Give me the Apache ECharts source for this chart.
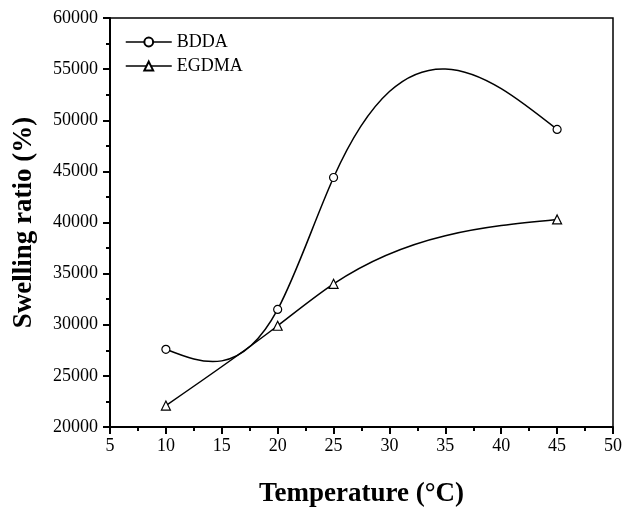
<!DOCTYPE html>
<html>
<head>
<meta charset="utf-8">
<script src="https://cdn.jsdelivr.net/npm/echarts@6/dist/echarts.min.js"></script>
<style>
    html, body { margin: 0; padding: 0; background: #fff; }
    #chart { width: 625px; height: 507px; }
</style>
</head>
<body>
<div id="chart"></div>
<script type="text/javascript">
    // 数据
    var temperature = [10, 20, 25, 45];
    var bdda = [27600, 31500, 44400, 49100];
    var egdma = [22100, 29900, 34000, 40300];

    function pairs(xs, ys) {
        var out = [];
        for (var i = 0; i < xs.length; i++) {
            out.push([xs[i], ys[i]]);
        }
        return out;
    }

    // 自然三次样条的一阶导数（用于贝塞尔控制点）
    function splineSlopes(xs, ys) {
        var n = xs.length, h = [], s = [], M = [];
        for (var i = 0; i < n - 1; i++) {
            h[i] = xs[i + 1] - xs[i];
            s[i] = (ys[i + 1] - ys[i]) / h[i];
        }
        // 三对角方程 (M0 = Mn-1 = 0)
        var a = [], b = [], c = [], d = [];
        for (var i = 1; i < n - 1; i++) {
            a[i] = h[i - 1];
            b[i] = 2 * (h[i - 1] + h[i]);
            c[i] = h[i];
            d[i] = 6 * (s[i] - s[i - 1]);
        }
        for (var i = 2; i < n - 1; i++) {
            var w = a[i] / b[i - 1];
            b[i] -= w * c[i - 1];
            d[i] -= w * d[i - 1];
        }
        M[0] = 0; M[n - 1] = 0;
        for (var i = n - 2; i >= 1; i--) {
            M[i] = (d[i] - (i < n - 2 ? c[i] * M[i + 1] : 0)) / b[i];
        }
        var m = [];
        for (var i = 0; i < n - 1; i++) {
            m[i] = s[i] - h[i] * (2 * M[i] + M[i + 1]) / 6;
        }
        m[n - 1] = s[n - 2] + h[n - 2] * (M[n - 2] + 2 * M[n - 1]) / 6;
        return m;
    }

    function splineSeries(name, xs, ys) {
        var m = splineSlopes(xs, ys);
        return {
            name: name,
            type: 'custom',
            z: 1,
            silent: true,
            data: pairs(xs, ys),
            encode: { x: 0, y: 1 },
            renderItem: function (params, api) {
                if (params.dataIndex !== 0) return;
                var p0 = api.coord([xs[0], ys[0]]);
                var path = 'M' + p0[0] + ' ' + p0[1];
                for (var i = 0; i < xs.length - 1; i++) {
                    var h = xs[i + 1] - xs[i];
                    var c1 = api.coord([xs[i] + h / 3, ys[i] + m[i] * h / 3]);
                    var c2 = api.coord([xs[i + 1] - h / 3, ys[i + 1] - m[i + 1] * h / 3]);
                    var p = api.coord([xs[i + 1], ys[i + 1]]);
                    path += ' C' + c1[0] + ' ' + c1[1] + ' ' + c2[0] + ' ' + c2[1] + ' ' + p[0] + ' ' + p[1];
                }
                return {
                    type: 'path',
                    shape: { pathData: path },
                    style: { fill: 'none', stroke: '#000', lineWidth: 1.5 }
                };
            }
        };
    }

    var myChart = echarts.init(document.getElementById('chart'));
    var font = 'Liberation Serif, Times New Roman, serif';

    var option = {
        backgroundColor: '#fff',
        animation: false,
        legend: {
            left: 120,
            top: 28,
            orient: 'vertical',
            itemGap: 6,
            itemWidth: 46,
            itemHeight: 11,
            textStyle: { fontFamily: font, fontSize: 18, color: '#000' },
            lineStyle: { color: '#000', width: 1.5, opacity: 1 },
            data: ['BDDA', 'EGDMA']
        },
        grid: {
            left: 110,
            right: 12,
            top: 18,
            bottom: 80,
            outerBoundsMode: 'none',
            containLabel: false,
            show: true,
            borderColor: '#000',
            borderWidth: 1.5
        },
        xAxis: {
            type: 'value',
            min: 5,
            max: 50,
            interval: 5,
            name: 'Temperature (°C)',
            nameLocation: 'middle',
            nameGap: 54,
            nameTextStyle: { fontFamily: font, fontSize: 27, fontWeight: 'bold', color: '#000' },
            axisLine: { lineStyle: { color: '#000', width: 2 } },
            axisTick: { inside: false, length: 7, lineStyle: { width: 2 } },
            minorTick: { show: true, splitNumber: 2, length: 4, lineStyle: { color: '#000', width: 2 } },
            splitLine: { show: false },
            axisLabel: { fontFamily: font, fontSize: 18, color: '#000', margin: 10 }
        },
        yAxis: {
            type: 'value',
            min: 20000,
            max: 60000,
            interval: 5000,
            name: 'Swelling ratio (%)',
            nameLocation: 'middle',
            nameGap: 72,
            nameTextStyle: { fontFamily: font, fontSize: 27, fontWeight: 'bold', color: '#000' },
            axisLine: { show: true, lineStyle: { color: '#000', width: 2 } },
            axisTick: { show: true, inside: false, length: 7, lineStyle: { width: 2 } },
            minorTick: { show: true, splitNumber: 2, length: 4, lineStyle: { color: '#000', width: 2 } },
            splitLine: { show: false },
            axisLabel: {
                fontFamily: font, fontSize: 18, color: '#000', margin: 12,
                formatter: function (v) { return String(v); }
            }
        },
        series: [
            splineSeries('BDDA-curve', temperature, bdda),
            splineSeries('EGDMA-curve', temperature, egdma),
            {
                name: 'BDDA',
                type: 'line',
                z: 3,
                data: pairs(temperature, bdda),
                symbol: 'circle',
                symbolSize: 8,
                itemStyle: { color: '#fff', borderColor: '#000', borderWidth: 1.2 },
                lineStyle: { color: '#000', width: 1.5, opacity: 0 }
            }, {
                name: 'EGDMA',
                type: 'line',
                z: 3,
                data: pairs(temperature, egdma),
                symbol: 'triangle',
                symbolSize: 9,
                itemStyle: { color: '#fff', borderColor: '#000', borderWidth: 1.2 },
                lineStyle: { color: '#000', width: 1.5, opacity: 0 }
            }
        ]
    };

    myChart.setOption(option);
</script>
</body>
</html>
